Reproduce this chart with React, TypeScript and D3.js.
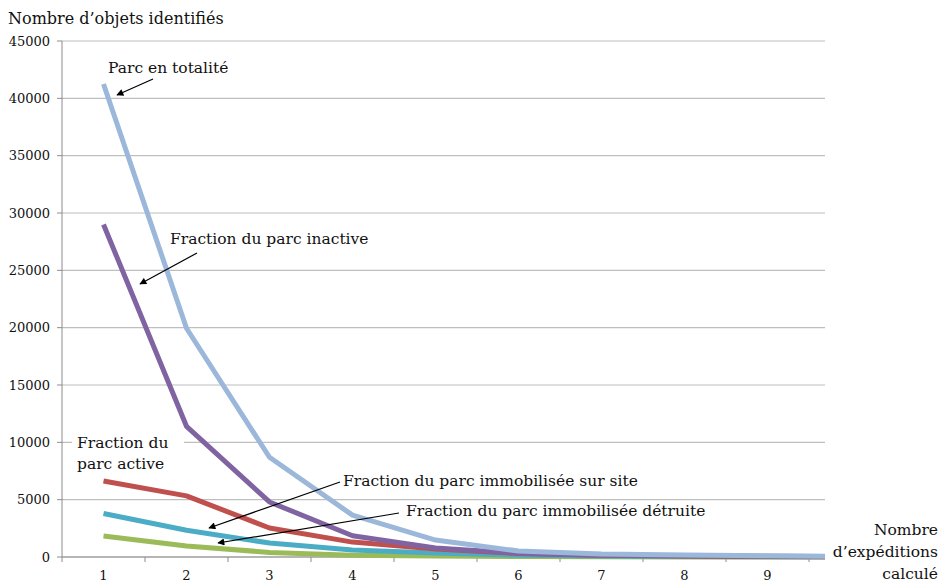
import React from "react";
import * as d3 from "d3";

const categories = [1, 2, 3, 4, 5, 6, 7, 8, 9, 10];
const xTickLabels = ["1", "2", "3", "4", "5", "6", "7", "8", "9"];
const yTicks = [0, 5000, 10000, 15000, 20000, 25000, 30000, 35000, 40000, 45000];

const parcTotalite = [41250, 19950, 8700, 3650, 1480, 520, 260, 170, 100, 50];
const parcInactive = [29000, 11400, 4800, 1850, 780, 330, 150, 100, 60, 30];
const parcActive = [6630, 5330, 2530, 1300, 700, 300, 150, 90, 50, 20];
const parcSurSite = [3800, 2330, 1220, 610, 350, 150, 80, 50, 30, 15];
const parcDetruite = [1830, 960, 400, 160, 80, 40, 20, 10, 5, 3];

const seriesList = [
  { name: "Fraction du parc immobilisée détruite", values: parcDetruite, color: "#9BBB59" },
  { name: "Fraction du parc immobilisée sur site", values: parcSurSite, color: "#4BACC6" },
  { name: "Fraction du parc active", values: parcActive, color: "#C0504D" },
  { name: "Fraction du parc inactive", values: parcInactive, color: "#8064A2" },
  { name: "Parc en totalité", values: parcTotalite, color: "#9BB7DA" },
];

const W = 945;
const H = 583;
const left = 62;
const right = 825;
const top = 41;
const bottom = 557;
const band = 83;

const FONT = "'DejaVu Serif', serif";

export default function App() {
  const x = d3.scaleLinear().domain([0.5, 1.5]).range([left, left + band]);
  const y = d3.scaleLinear().domain([0, 45000]).range([bottom, top]);
  const line = d3
    .line<number>()
    .x((_, i) => x(categories[i]))
    .y((d) => y(d));

  const boundaries = d3.range(0, 10).map((i) => left + i * band);

  return (
    <svg width={W} height={H} style={{ position: "absolute", left: 0, top: 0, background: "#fff" }} fontFamily={FONT}>
      <defs>
        <clipPath id="plot">
          <rect x={left} y={0} width={right - left} height={H} />
        </clipPath>
        <marker id="arrow" viewBox="0 0 10 10" refX="9" refY="5" markerWidth="9" markerHeight="7" orient="auto" markerUnits="userSpaceOnUse">
          <path d="M0,0 L10,5 L0,10 z" fill="#000" />
        </marker>
      </defs>
      <rect x={0} y={0} width={W} height={H} fill="#fff" />
      {yTicks.map((t) => (
        <line key={t} x1={left} x2={right} y1={y(t)} y2={y(t)} stroke="#BEBEBE" strokeWidth={1.2} />
      ))}
      <line x1={left} x2={left} y1={top} y2={bottom} stroke="#8C8C8C" strokeWidth={1} />
      {yTicks.map((t) => (
        <g key={"yt" + t}>
          <line x1={left - 5} x2={left} y1={y(t)} y2={y(t)} stroke="#8C8C8C" />
          <text x={50} y={y(t)} dy="0.35em" textAnchor="end" fontSize={13} fill="#111">
            {t}
          </text>
        </g>
      ))}
      <line x1={left} x2={right} y1={bottom} y2={bottom} stroke="#8C8C8C" />
      {boundaries.map((b, i) => (
        <line key={"xb" + i} x1={b} x2={b} y1={bottom} y2={bottom + 5} stroke="#8C8C8C" />
      ))}
      {xTickLabels.map((l, i) => (
        <text key={"xl" + l} x={x(i + 1)} y={575} dy="0.35em" textAnchor="middle" fontSize={13} fill="#111">
          {l}
        </text>
      ))}
      <g clipPath="url(#plot)">
        {seriesList.map((s) => (
          <path key={s.name} d={line(s.values) || ""} fill="none" stroke={s.color} strokeWidth={5} strokeLinejoin="round" />
        ))}
      </g>
      <text x={8} y={24} fontSize={16} fill="#111">Nombre d’objets identifiés</text>
      <text textAnchor="end" fontSize={15.5} fill="#111">
        <tspan x={938} y={535}>Nombre</tspan>
        <tspan x={938} y={557}>d’expéditions</tspan>
        <tspan x={938} y={579}>calculé</tspan>
      </text>
      <text x={108} y={73} fontSize={15.5} fill="#111">Parc en totalité</text>
      <line x1={153} x2={117} y1={79} y2={95} stroke="#000" strokeWidth={1.2} markerEnd="url(#arrow)" />

      <text x={170} y={244} fontSize={15.5} fill="#111">Fraction du parc inactive</text>
      <line x1={197} x2={140} y1={253} y2={284} stroke="#000" strokeWidth={1.2} markerEnd="url(#arrow)" />

      <rect x={72} y={430} width={112} height={44} fill="#fff" />
      <text fontSize={15.5} fill="#111">
        <tspan x={77} y={448}>Fraction du</tspan>
        <tspan x={77} y={469}>parc active</tspan>
      </text>

      <text x={343} y={486} fontSize={15.5} fill="#111">Fraction du parc immobilisée sur site</text>
      <line x1={340} x2={209} y1={482} y2={528} stroke="#000" strokeWidth={1.2} markerEnd="url(#arrow)" />

      <text x={406} y={516} fontSize={15.5} fill="#111">Fraction du parc immobilisée détruite</text>
      <line x1={399} x2={218} y1={513} y2={543} stroke="#000" strokeWidth={1.2} markerEnd="url(#arrow)" />
    </svg>
  );
}
